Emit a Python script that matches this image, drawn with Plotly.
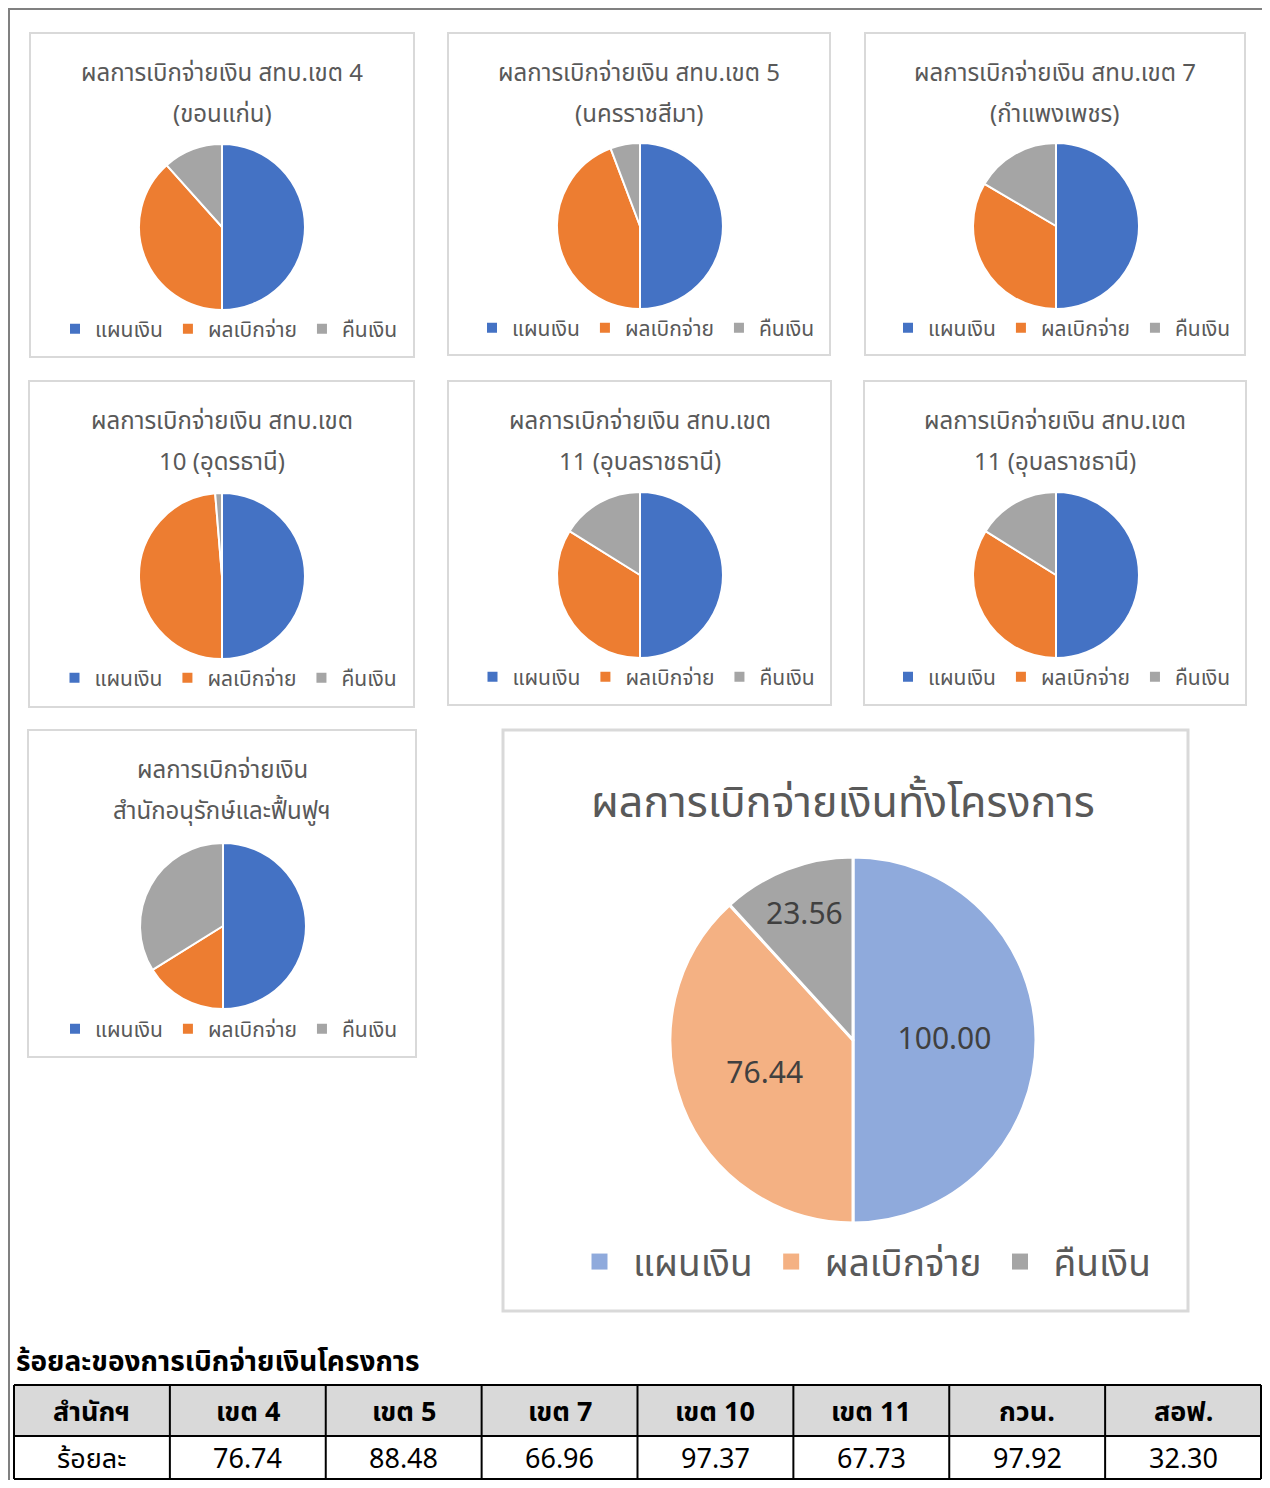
import plotly.graph_objects as go

# ---------------- data ----------------
labels = ["แผนเงิน", "ผลเบิกจ่าย", "คืนเงิน"]
plan = [100.0, 100.0, 100.0, 100.0, 100.0, 100.0, 100.0]
disbursed = [76.74, 88.48, 66.96, 97.37, 67.73, 67.73, 32.30]
refund = [23.26, 11.52, 33.04, 2.63, 32.27, 32.27, 67.70]
title_line1 = [
    "ผลการเบิกจ่ายเงิน สทบ.เขต 4",
    "ผลการเบิกจ่ายเงิน สทบ.เขต 5",
    "ผลการเบิกจ่ายเงิน สทบ.เขต 7",
    "ผลการเบิกจ่ายเงิน สทบ.เขต",
    "ผลการเบิกจ่ายเงิน สทบ.เขต",
    "ผลการเบิกจ่ายเงิน สทบ.เขต",
    "ผลการเบิกจ่ายเงิน",
]
title_line2 = [
    "(ขอนแก่น)",
    "(นครราชสีมา)",
    "(กำแพงเพชร)",
    "10 (อุดรธานี)",
    "11 (อุบลราชธานี)",
    "11 (อุบลราชธานี)",
    "สำนักอนุรักษ์และฟื้นฟูฯ",
]
total_title = "ผลการเบิกจ่ายเงินทั้งโครงการ"
total_values = [100.00, 76.44, 23.56]

table_title = "ร้อยละของการเบิกจ่ายเงินโครงการ"
table_header = ["สำนักฯ", "เขต 4", "เขต 5", "เขต 7", "เขต 10", "เขต 11", "กวน.", "สอฟ."]
table_row = ["ร้อยละ", "76.74", "88.48", "66.96", "97.37", "67.73", "97.92", "32.30"]

# ---------------- layout helpers ----------------
OFF = 8  # page body margin
W, H = 1270 - 2 * OFF, 1488 - 2 * OFF
FONT = "Tahoma, 'Noto Sans Thai', 'Noto Sans', Leelawadee, sans-serif"


def px(x):
    return min(1.0, max(0.0, (x - OFF) / W))


def py(y):
    return min(1.0, max(0.0, 1 - (y - OFF) / H))


def pxu(x):
    return (x - OFF) / W


def pyu(y):
    return 1 - (y - OFF) / H


small_colors = ["#4472c4", "#ed7d31", "#a5a5a5"]
big_colors = ["#8faadc", "#f4b183", "#a5a5a5"]

# boxes (x0, y0, x1, y1) in reference pixels
boxes = [
    (30, 33, 414, 357), (448, 33, 830, 355), (865, 33, 1245, 355),
    (29, 381, 414, 707), (448, 381, 831, 705), (864, 381, 1246, 705),
    (28, 730, 416, 1057),
]
centers = [
    (222, 227), (640, 226), (1056, 226),
    (222, 576), (640, 575), (1056, 575),
    (223, 926),
]
R = 83
title_y = [74, 74, 74, 422, 422, 422, 771]
legend_y = [329, 328, 328, 678, 677, 677, 1029]

fig = go.Figure()
shapes = []
annotations = []
legends = {}

for i in range(7):
    cx, cy = centers[i]
    lname = "legend" if i == 0 else f"legend{i + 1}"
    # invisible suffix keeps each pie's legend entries distinct
    lab = [s + "\u200b" * i for s in labels]
    fig.add_trace(go.Pie(
        labels=lab,
        values=[plan[i], disbursed[i], refund[i]],
        sort=False,
        direction="clockwise",
        rotation=0,
        textinfo="none",
        hoverinfo="label+value",
        marker=dict(colors=small_colors, line=dict(color="white", width=2)),
        domain=dict(x=[px(cx - R), px(cx + R)], y=[py(cy + R), py(cy - R)]),
        legend=lname,
        showlegend=True,
    ))
    x0, y0, x1, y1 = boxes[i]
    shapes.append(dict(type="rect", xref="paper", yref="paper",
                       x0=pxu(x0), x1=pxu(x1), y0=pyu(y1), y1=pyu(y0),
                       line=dict(color="#d9d9d9", width=2), layer="below"))
    for txt, ty in ((title_line1[i], title_y[i]), (title_line2[i], title_y[i] + 41)):
        annotations.append(dict(
            text=txt, xref="paper", yref="paper",
            x=pxu((x0 + x1) / 2), y=pyu(ty), xanchor="center", yanchor="middle",
            showarrow=False, font=dict(family=FONT, size=24, color="#595959"),
        ))
    legends[lname] = dict(
        orientation="h", x=pxu((x0 + x1) / 2 + 7), xanchor="center",
        y=pyu(legend_y[i]), yanchor="middle",
        font=dict(family=FONT, size=21, color="#595959"),
        bgcolor="rgba(0,0,0,0)", itemclick=False, itemdoubleclick=False,
        tracegroupgap=0, itemwidth=30,
    )

# big pie
BR = 183
bcx, bcy = 853, 1040
big_labels = [s + "\u200b" * 7 for s in labels]
fig.add_trace(go.Pie(
    labels=big_labels,
    values=total_values,
    sort=False,
    direction="clockwise",
    rotation=0,
    textinfo="value",
    texttemplate="%{value:.2f}",
    textposition="inside",
    insidetextorientation="horizontal",
    textfont=dict(family=FONT, size=30, color="#404040"),
    hoverinfo="label+value",
    marker=dict(colors=big_colors, line=dict(color="white", width=3)),
    domain=dict(x=[px(bcx - BR), px(bcx + BR)], y=[py(bcy + BR), py(bcy - BR)]),
    showlegend=False,
))
# legend entries of the big pie (larger square symbols)
for lab, col in zip(labels, big_colors):
    fig.add_trace(go.Scatter(
        x=[None], y=[None], mode="markers", name=lab,
        marker=dict(symbol="square", size=20, color=col, line=dict(width=0)),
        legend="legend8", showlegend=True, hoverinfo="skip",
    ))
shapes.append(dict(type="rect", xref="paper", yref="paper",
                   x0=pxu(503), x1=pxu(1188), y0=pyu(1311), y1=pyu(730),
                   line=dict(color="#d9d9d9", width=3), layer="below"))
annotations.append(dict(
    text=total_title, xref="paper", yref="paper",
    x=pxu(843), y=pyu(803), xanchor="center", yanchor="middle",
    showarrow=False, font=dict(family=FONT, size=43, color="#595959"),
))
legends["legend8"] = dict(
    orientation="h", x=pxu(861), xanchor="center",
    y=pyu(1262), yanchor="middle",
    font=dict(family=FONT, size=37, color="#595959"),
    bgcolor="rgba(0,0,0,0)", itemclick=False, itemdoubleclick=False,
    itemwidth=57, itemsizing="trace",
)

# outer border
shapes.append(dict(type="rect", xref="paper", yref="paper",
                   x0=pxu(9), x1=pxu(1266), y0=pyu(1500), y1=pyu(9),
                   line=dict(color="#808080", width=2), layer="below"))

# ---------------- table (text grid) ----------------
annotations.append(dict(
    text="<b>" + table_title + "</b>", xref="paper", yref="paper",
    x=pxu(14), y=pyu(1362), xanchor="left", yanchor="middle",
    showarrow=False, font=dict(family=FONT, size=28, color="#000000"),
))
tx0, tx1 = 14, 1261
ty0, ty1, ty2 = 1385, 1436, 1479
ncol = len(table_header)
cw = (tx1 - tx0) / ncol
# header background
shapes.append(dict(type="rect", xref="paper", yref="paper",
                   x0=pxu(tx0), x1=pxu(tx1), y0=pyu(ty1), y1=pyu(ty0),
                   fillcolor="#d9d9d9", line=dict(width=0), layer="below"))
# horizontal lines
for yy in (ty0, ty1, ty2):
    shapes.append(dict(type="line", xref="paper", yref="paper",
                       x0=pxu(tx0), x1=pxu(tx1), y0=pyu(yy), y1=pyu(yy),
                       line=dict(color="#000000", width=2)))
# vertical lines
for k in range(ncol + 1):
    xx = tx0 + k * cw
    shapes.append(dict(type="line", xref="paper", yref="paper",
                       x0=pxu(xx), x1=pxu(xx), y0=pyu(ty2), y1=pyu(ty0),
                       line=dict(color="#000000", width=2)))
for k in range(ncol):
    xc = tx0 + (k + 0.5) * cw
    annotations.append(dict(
        text="<b>" + table_header[k] + "</b>", xref="paper", yref="paper",
        x=pxu(xc), y=pyu((ty0 + ty1) / 2 + 2), xanchor="center", yanchor="middle",
        showarrow=False, font=dict(family=FONT, size=27, color="#000000"),
    ))
    annotations.append(dict(
        text=table_row[k], xref="paper", yref="paper",
        x=pxu(xc), y=pyu((ty1 + ty2) / 2 + 2), xanchor="center", yanchor="middle",
        showarrow=False, font=dict(family=FONT, size=27, color="#000000"),
    ))

fig.update_xaxes(visible=False)
fig.update_yaxes(visible=False)
fig.update_layout(
    width=W, height=H,
    margin=dict(l=0, r=0, t=0, b=0),
    paper_bgcolor="white",
    plot_bgcolor="rgba(0,0,0,0)",
    shapes=shapes,
    annotations=annotations,
    **legends,
)

fig.write_html("out.html")
